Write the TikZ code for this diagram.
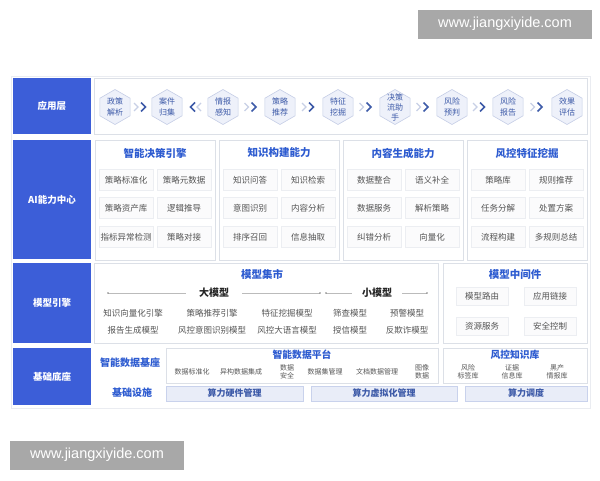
\documentclass[tikz,border=0pt]{standalone}
\usepackage{fontspec}
\setmainfont{Noto Sans CJK SC}
\newfontfamily\wmfont{Liberation Sans}
\usetikzlibrary{shapes.geometric,calc}
\definecolor{layerblue}{HTML}{3C5ED8}
\definecolor{titleblue}{HTML}{2D5BD0}
\definecolor{panelgray}{HTML}{DCE0E7}
\definecolor{cellgray}{HTML}{ECEEF2}
\definecolor{cellfill}{HTML}{FBFBFC}
\definecolor{textgray}{HTML}{555555}
\definecolor{hexfill}{HTML}{EEF1FA}
\definecolor{hexdraw}{HTML}{C5CDE6}
\definecolor{hextext}{HTML}{3D5AA8}
\definecolor{chevlight}{HTML}{C8D0E6}
\definecolor{barfill}{HTML}{E9EDF8}
\definecolor{bardraw}{HTML}{C9D2EC}
\definecolor{wmgray}{HTML}{A8A8A8}
\definecolor{linegray}{HTML}{BBBBBB}
\begin{document}
\begin{tikzpicture}[x=1pt,y=-1pt,inner sep=0pt,
    layer/.style={fill=layerblue,text=white,font=\fontsize{9.5}{11}\selectfont\bfseries},
    panel/.style={draw=panelgray,fill=white,line width=0.6pt},
    ptitle/.style={text=titleblue,font=\fontsize{10.5}{12}\selectfont\bfseries},
    cell/.style={draw=cellgray,fill=cellfill,text=textgray,minimum width=54,minimum height=21,font=\fontsize{8.5}{10}\selectfont},
    hexa/.style={regular polygon,regular polygon sides=6,shape border rotate=30,minimum size=35,
      fill=hexfill,draw=hexdraw,line width=0.6pt,text=hextext,align=center,font=\fontsize{8}{10.5}\selectfont},
    hexlabel/.style={text=hextext,align=center,font=\fontsize{8}{10}\selectfont},
    chevd/.style={draw=hextext,line width=1.6pt},
    chevl/.style={draw=chevlight,line width=1.2pt},
    model/.style={text=textgray,font=\fontsize{8.5}{10}\selectfont},
    small/.style={text=textgray,align=center,font=\fontsize{7}{8.5}\selectfont},
    infra/.style={draw=bardraw,fill=barfill,text=hextext,minimum height=15,font=\fontsize{9}{10}\selectfont\bfseries},
    wm/.style={fill=wmgray,text=white,minimum width=174,minimum height=29,font=\wmfont\fontsize{14.5}{16}\selectfont}]
  \useasboundingbox (0,0) rectangle (600,480);
  % watermarks
  \node[wm] (wmtop) at (505,24) {www.jiangxiyide.com};
  \node[wm] (wmbot) at (97,455) {www.jiangxiyide.com};
  \draw[panelgray!60,line width=0.5pt] (11,76) rectangle (590,408);

  % 应用层
  \node[layer,minimum width=78,minimum height=56] (app) at (52,106) {应用层};
  \node[panel,minimum width=493,minimum height=56] (appbox) at (340.5,106) {};
  \node[hexa] (h1) at (115,107) {政策\\解析};
  \node[hexa] (h2) at (167,107) {案件\\归集};
  \node[hexa] (h3) at (223,107) {情报\\感知};
  \node[hexa] (h4) at (280,107) {策略\\推荐};
  \node[hexa] (h5) at (338,107) {特征\\挖掘};
  \node[hexa] (h6) at (395,107) {};
  \node[hexlabel] (h6t) at (h6) {决策\\流助\\手};
  \node[hexa] (h7) at (452,107) {风险\\预判};
  \node[hexa] (h8) at (508,107) {风险\\报告};
  \node[hexa] (h9) at (567,107) {效果\\评估};
  \draw[chevl] ($(h1.east)!0.5!(h2.west)$) ++(-7,-4) -- ++(4,4) -- ++(-4,4);
  \draw[chevd] ($(h1.east)!0.5!(h2.west)$) ++(0,-4.5) -- ++(4.5,4.5) -- ++(-4.5,4.5);
  \draw[chevd] ($(h2.east)!0.5!(h3.west)$) ++(0,-4.5) -- ++(-4.5,4.5) -- ++(4.5,4.5);
  \draw[chevl] ($(h2.east)!0.5!(h3.west)$) ++(6,-4) -- ++(-4,4) -- ++(4,4);
  \draw[chevl] ($(h3.east)!0.5!(h4.west)$) ++(-7,-4) -- ++(4,4) -- ++(-4,4);
  \draw[chevd] ($(h3.east)!0.5!(h4.west)$) ++(0,-4.5) -- ++(4.5,4.5) -- ++(-4.5,4.5);
  \draw[chevl] ($(h4.east)!0.5!(h5.west)$) ++(-7,-4) -- ++(4,4) -- ++(-4,4);
  \draw[chevd] ($(h4.east)!0.5!(h5.west)$) ++(0,-4.5) -- ++(4.5,4.5) -- ++(-4.5,4.5);
  \draw[chevl] ($(h5.east)!0.5!(h6.west)$) ++(-7,-4) -- ++(4,4) -- ++(-4,4);
  \draw[chevd] ($(h5.east)!0.5!(h6.west)$) ++(0,-4.5) -- ++(4.5,4.5) -- ++(-4.5,4.5);
  \draw[chevl] ($(h6.east)!0.5!(h7.west)$) ++(-7,-4) -- ++(4,4) -- ++(-4,4);
  \draw[chevd] ($(h6.east)!0.5!(h7.west)$) ++(0,-4.5) -- ++(4.5,4.5) -- ++(-4.5,4.5);
  \draw[chevl] ($(h7.east)!0.5!(h8.west)$) ++(-7,-4) -- ++(4,4) -- ++(-4,4);
  \draw[chevd] ($(h7.east)!0.5!(h8.west)$) ++(0,-4.5) -- ++(4.5,4.5) -- ++(-4.5,4.5);
  \draw[chevl] ($(h8.east)!0.5!(h9.west)$) ++(-7,-4) -- ++(4,4) -- ++(-4,4);
  \draw[chevd] ($(h8.east)!0.5!(h9.west)$) ++(0,-4.5) -- ++(4.5,4.5) -- ++(-4.5,4.5);

  % AI能力中心
  \node[layer,minimum width=78,minimum height=119] (ai) at (52,199.5) {AI能力中心};
  \node[panel,minimum width=120,minimum height=120] (decide) at (155,200) {};
  \node[panel,minimum width=120,minimum height=120] (know) at (279,200) {};
  \node[panel,minimum width=120,minimum height=120] (gen) at (403,200) {};
  \node[panel,minimum width=120,minimum height=120] (risk) at (527,200) {};
  \node[ptitle] (decidet) at (155,153) {智能决策引擎};
  \node[ptitle] (knowt) at (279,153) {知识构建能力};
  \node[ptitle] (gent) at (403,153) {内容生成能力};
  \node[ptitle] (riskt) at (527,153) {风控特征挖掘};
  \node[cell] (d1) at (126,180) {策略标准化};
  \node[cell] (d2) at (184,180) {策略元数据};
  \node[cell] (d3) at (126,208) {策略资产库};
  \node[cell] (d4) at (184,208) {逻辑推导};
  \node[cell] (d5) at (126,237) {指标异常检测};
  \node[cell] (d6) at (184,237) {策略对接};
  \node[cell] (k1) at (250,180) {知识问答};
  \node[cell] (k2) at (308,180) {知识检索};
  \node[cell] (k3) at (250,208) {意图识别};
  \node[cell] (k4) at (308,208) {内容分析};
  \node[cell] (k5) at (250,237) {排序召回};
  \node[cell] (k6) at (308,237) {信息抽取};
  \node[cell] (g1) at (374,180) {数据整合};
  \node[cell] (g2) at (432,180) {语义补全};
  \node[cell] (g3) at (374,208) {数据服务};
  \node[cell] (g4) at (432,208) {解析策略};
  \node[cell] (g5) at (374,237) {纠错分析};
  \node[cell] (g6) at (432,237) {向量化};
  \node[cell] (r1) at (498,180) {策略库};
  \node[cell] (r2) at (556,180) {规则推荐};
  \node[cell] (r3) at (498,208) {任务分解};
  \node[cell] (r4) at (556,208) {处置方案};
  \node[cell] (r5) at (498,237) {流程构建};
  \node[cell] (r6) at (556,237) {多规则总结};

  % 模型引擎
  \node[layer,minimum width=78,minimum height=80] (engine) at (52,303) {模型引擎};
  \node[panel,minimum width=344,minimum height=80] (market) at (266,303) {};
  \node[panel,minimum width=144,minimum height=80] (middle) at (515,303) {};
  \node[ptitle] (markett) at (262,274) {模型集市};
  \node[ptitle] (middlet) at (515,275) {模型中间件};
  \node[font=\fontsize{10}{12}\selectfont\bfseries,text=black!85] (big) at (214,293) {大模型};
  \node[font=\fontsize{10}{12}\selectfont\bfseries,text=black!85] (little) at (377,293) {小模型};
  \coordinate (b1) at (108,293);
  \coordinate (b2) at (320,293);
  \coordinate (s1) at (326,293);
  \coordinate (s2) at (427,293);
  \draw[linegray,line width=0.5pt] (b1) -- ([xshift=-13]big.west);
  \draw[linegray,line width=0.5pt] ([xshift=13]big.east) -- (b2);
  \draw[linegray,line width=0.5pt] (s1) -- ([xshift=-10]little.west);
  \draw[linegray,line width=0.5pt] ([xshift=10]little.east) -- (s2);
  \fill[linegray!70!black] (b1) circle (0.8) (b2) circle (0.8) (s1) circle (0.8) (s2) circle (0.8);
  \node[model] (m1) at (133,313) {知识向量化引擎};
  \node[model] (m2) at (212,313) {策略推荐引擎};
  \node[model] (m3) at (287,313) {特征挖掘模型};
  \node[model] (m4) at (350,313) {筛查模型};
  \node[model] (m5) at (407,313) {预警模型};
  \node[model] (m6) at (133,330) {报告生成模型};
  \node[model] (m7) at (212,330) {风控意图识别模型};
  \node[model] (m8) at (287,330) {风控大语言模型};
  \node[model] (m9) at (350,330) {授信模型};
  \node[model] (m10) at (407,330) {反欺诈模型};
  \node[cell,minimum width=52,minimum height=18] (w1) at (482,296) {模型路由};
  \node[cell,minimum width=52,minimum height=18] (w2) at (550,296) {应用链接};
  \node[cell,minimum width=52,minimum height=18] (w3) at (482,326) {资源服务};
  \node[cell,minimum width=52,minimum height=18] (w4) at (550,326) {安全控制};

  % 基础底座
  \node[layer,minimum width=78,minimum height=57] (base) at (52,376.5) {基础底座};
  \node[ptitle,font=\fontsize{10}{12}\selectfont\bfseries] (dbase) at (130,363) {智能数据基座};
  \node[ptitle,font=\fontsize{10}{12}\selectfont\bfseries] (infra) at (132,393) {基础设施};
  \node[panel,minimum width=272,minimum height=35] (dplat) at (302,365.5) {};
  \node[panel,minimum width=144,minimum height=35] (kbase) at (515,365.5) {};
  \node[ptitle,font=\fontsize{9.8}{12}\selectfont\bfseries] (dplatt) at (302,355) {智能数据平台};
  \node[ptitle,font=\fontsize{9.8}{12}\selectfont\bfseries] (kbaset) at (515,355) {风控知识库};
  \node[small] (p1) at (192,372) {数据标准化};
  \node[small] (p2) at (241,372) {异构数据集成};
  \node[small] (p3) at (287,372) {数据\\安全};
  \node[small] (p4) at (325,372) {数据集管理};
  \node[small] (p5) at (377,372) {文档数据管理};
  \node[small] (p6) at (422,372) {图像\\数据};
  \node[small] (q1) at (468,372) {风险\\标签库};
  \node[small] (q2) at (512,372) {证据\\信息库};
  \node[small] (q3) at (557,372) {黑产\\情报库};
  \node[infra,minimum width=137] (c1) at (234.5,393.5) {算力硬件管理};
  \node[infra,minimum width=146] (c2) at (384,393.5) {算力虚拟化管理};
  \node[infra,minimum width=122] (c3) at (526,393.5) {算力调度};
\end{tikzpicture}
\end{document}
